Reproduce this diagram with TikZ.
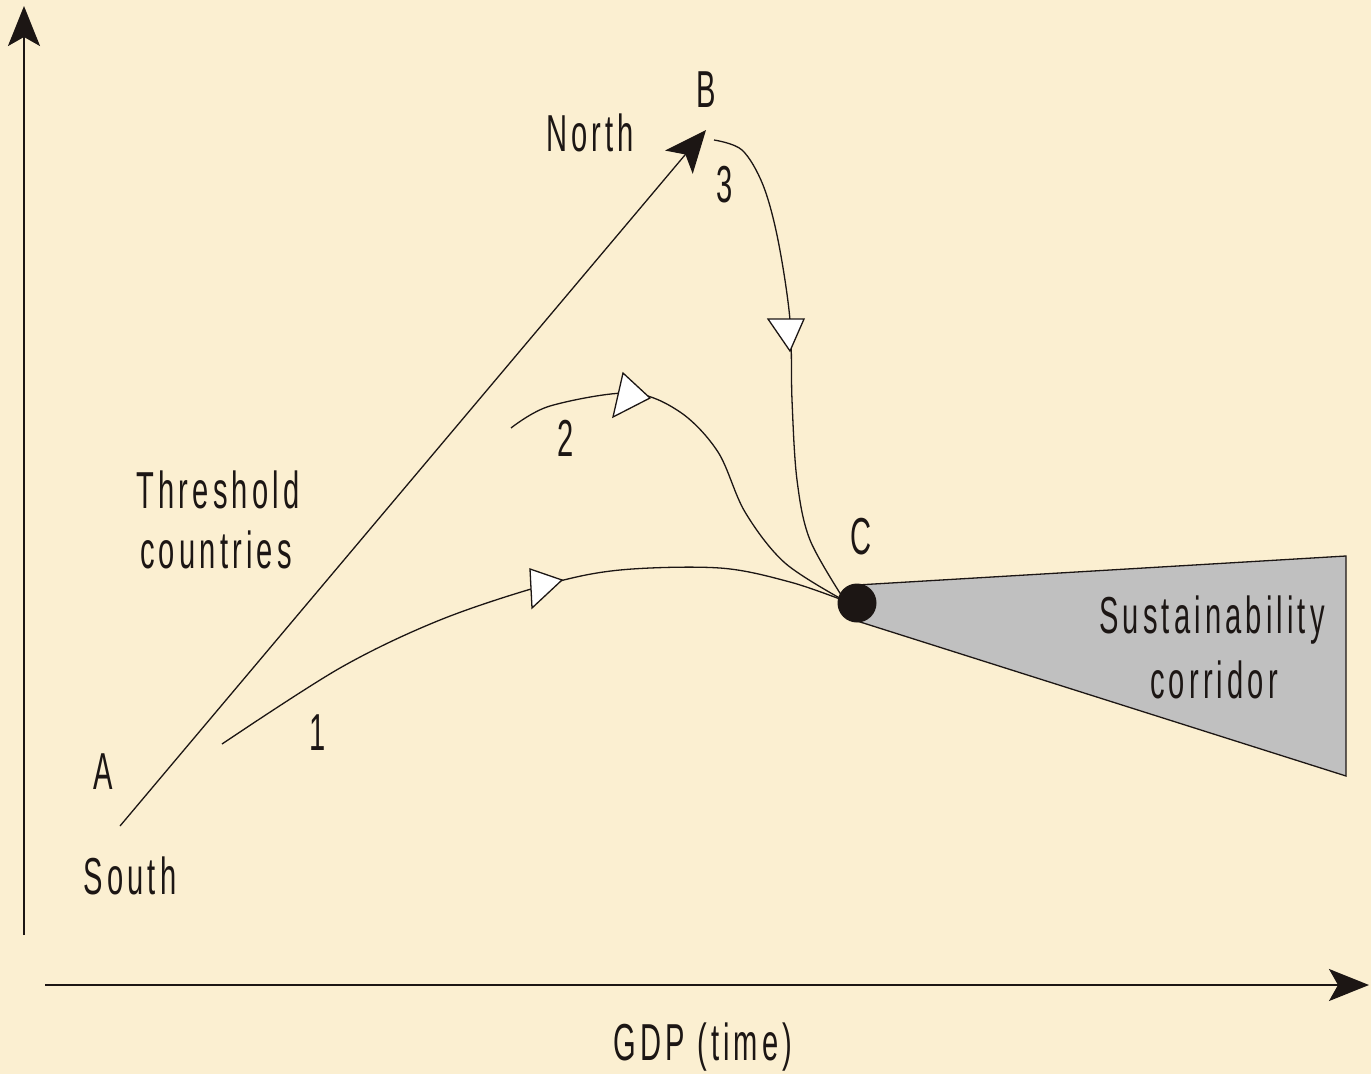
\documentclass[tikz,border=0pt]{standalone}
\usepackage{fontspec}
\setmainfont{Liberation Sans}[FakeStretch=0.56, LetterSpace=8]
\usetikzlibrary{arrows.meta}
\definecolor{parch}{RGB}{251,239,209}
\definecolor{corr}{RGB}{192,192,192}
\definecolor{ink}{RGB}{28,22,20}
\tikzset{
  lbl/.style={font=\fontsize{52}{56}\selectfont, text=ink, inner sep=0pt, align=center},
  axis/.style={draw=ink, line width=2pt, -{Stealth[length=40pt, width=32pt, inset=9pt]}},
  path/.style={draw=ink, line width=1.3pt},
  tri/.style={draw=ink, fill=white, line width=1.3pt, line join=miter},
}
\begin{document}
\begin{tikzpicture}[x=1pt, y=-1pt]
\fill[parch] (0,0) rectangle (1371,1074);
\useasboundingbox (0,0) rectangle (1371,1074);
% axes
\coordinate (y0) at (24,935);
\coordinate (y1) at (24,6);
\coordinate (x0) at (45,985);
\coordinate (x1) at (1369,985);
\draw[axis] (y0) -- (y1);
\draw[axis] (x0) -- (x1);
% corridor
\coordinate (c1) at (857,585);
\coordinate (c2) at (1346,556);
\coordinate (c3) at (1346,776);
\coordinate (c4) at (857,621);
\filldraw[fill=corr, draw=ink, line width=1.3pt] (c1) -- (c2) -- (c3) -- (c4) -- cycle;
% A to B
\coordinate (A) at (120,826);
\coordinate (B) at (706,130);
\draw[draw=ink, line width=1.3pt, -{Stealth[length=42pt, width=36pt, inset=10pt]}] (A) -- (B);
% C point
\coordinate (C) at (845,601);
% curve 1
\draw[path] plot[smooth, tension=0.55] coordinates {(222,744) (340,668) (440,620) (545,585) (620,570) (720,568) (790,582) (C)};
% curve 2
\draw[path] plot[smooth, tension=0.55] coordinates {(511,428) (550,406) (630,393) (680,412) (718,452) (745,512) (785,563) (C)};
% curve 3
\draw[path] plot[smooth, tension=0.55] coordinates {(714,140) (742,150) (763,185) (778,240) (790,320) (792,400) (797,480) (810,540) (C)};
% triangles
\filldraw[tri] (530,569) -- (562,580) -- (532,608) -- cycle;
\filldraw[tri] (623,373) -- (650,398) -- (613,417) -- cycle;
\filldraw[tri] (768,319) -- (804,319) -- (790,351) -- cycle;
% C dot
\fill[ink] (857,603) circle (19.5);
% labels
\node[lbl] (tB) at (706,90) {B};
\node[lbl] (tN) at (590,133) {North};
\node[lbl] (t3) at (725,185) {3};
\node[lbl] (t2) at (566,438) {2};
\node[lbl] (tT) at (218,490) {Threshold};
\node[lbl] (tc) at (216,550) {countries};
\node[lbl] (tC) at (861,537) {C};
\node[lbl] (t1) at (318,733) {1};
\node[lbl] (tA) at (103,772) {A};
\node[lbl] (tS) at (130,876) {South};
\node[lbl] (tSu) at (1212,620) {Sustainability};
\node[lbl] (tco) at (1214,680) {corridor};
\node[lbl] (tG) at (703,1047) {GDP (time)};
\end{tikzpicture}
\end{document}
